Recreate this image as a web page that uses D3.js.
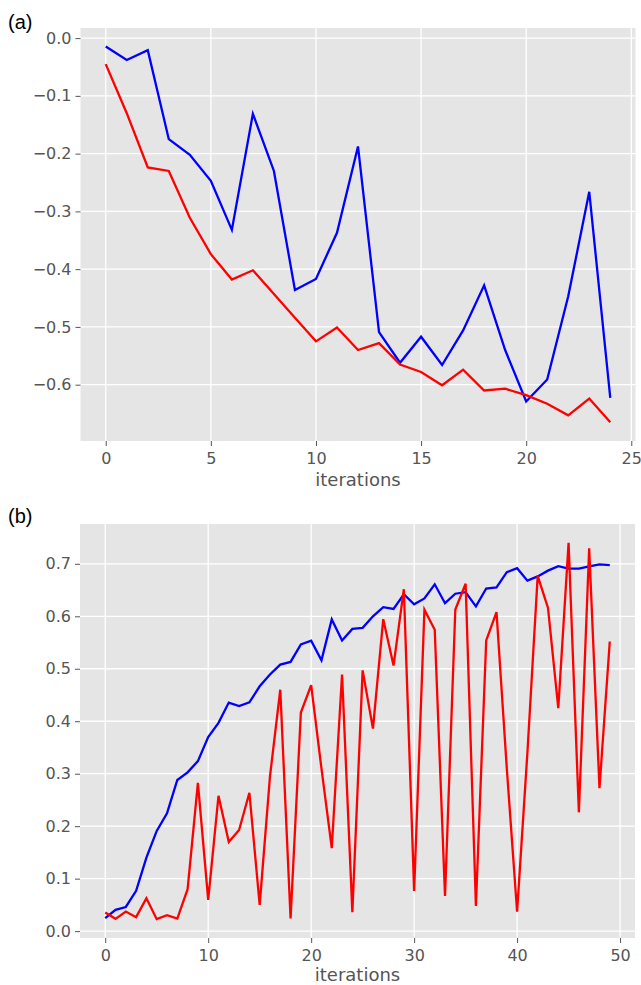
<!DOCTYPE html>
<html>
<head>
<meta charset="utf-8">
<script src="https://cdn.jsdelivr.net/npm/d3@7"></script>
<style>
  body { margin: 0; background: #fff; }
  svg { display: block; }
</style>
</head>
<body>
<script>
// panel (a): 25 iterations
var itersA = d3.range(0, 25);
var blueA = [-0.0145, -0.038, -0.021, -0.175, -0.202, -0.247, -0.332, -0.131, -0.23, -0.436,
  -0.417, -0.337, -0.1875, -0.509, -0.562, -0.517, -0.566, -0.506, -0.428, -0.54,
  -0.629, -0.591, -0.447, -0.266, -0.623];
var redA = [-0.045, -0.13, -0.224, -0.23, -0.311, -0.374, -0.418, -0.402, -0.443, -0.484,
  -0.525, -0.501, -0.54, -0.528, -0.565, -0.578, -0.601, -0.574, -0.61, -0.607,
  -0.618, -0.633, -0.653, -0.624, -0.665];
var xTicksA = [0, 5, 10, 15, 20, 25];
var yTicksA = [-0.6, -0.5, -0.4, -0.3, -0.2, -0.1, 0.0];

// panel (b): 50 iterations
var itersB = d3.range(0, 50);
var blueB = [0.0247, 0.0405, 0.046, 0.0767, 0.14, 0.191, 0.2245, 0.288, 0.3025, 0.324,
  0.37, 0.397, 0.4356, 0.429, 0.436, 0.4666, 0.489, 0.508, 0.513, 0.5465,
  0.5535, 0.516, 0.594, 0.554, 0.576, 0.578, 0.6, 0.6175, 0.614, 0.642,
  0.623, 0.634, 0.661, 0.625, 0.643, 0.646, 0.619, 0.653, 0.655, 0.684,
  0.6917, 0.668, 0.676, 0.687, 0.6955, 0.691, 0.691, 0.695, 0.6988, 0.6975];
var redB = [0.0355, 0.0234, 0.0373, 0.0266, 0.0628, 0.0228, 0.0304, 0.024, 0.08, 0.2827,
  0.0595, 0.258, 0.17, 0.1927, 0.2637, 0.05, 0.295, 0.46, 0.024, 0.4166,
  0.469, 0.31, 0.158, 0.489, 0.036, 0.497, 0.386, 0.5946, 0.506, 0.6517,
  0.0767, 0.6125, 0.5745, 0.067, 0.613, 0.662, 0.048, 0.554, 0.608, 0.31,
  0.037, 0.34, 0.677, 0.616, 0.425, 0.74, 0.2264, 0.7297, 0.2726, 0.552];
var xTicksB = [0, 10, 20, 30, 40, 50];
var yTicksB = [0.0, 0.1, 0.2, 0.3, 0.4, 0.5, 0.6, 0.7];

var W = 641, H = 985;

var svg = d3.select('body').append('svg')
  .attr('width', W)
  .attr('height', H);

// matplotlib style labels with a real minus sign
var fmt1 = function(d) { return d3.format('.1f')(d).replace('-', '\u2212'); };

var panels = [
  { tag: '(a)', tagY: 29, iters: itersA, blue: blueA, red: redA,
    xDom: [-1.2, 25.2], yDom: [-0.6975, 0.0175], xTicks: xTicksA, yTicks: yTicksA,
    left: 80.5, right: 635.5, top: 28, bottom: 441, labelY: 486 },
  { tag: '(b)', tagY: 523, iters: itersB, blue: blueB, red: redB,
    xDom: [-2.45, 51.45], yDom: [-0.0131, 0.7759], xTicks: xTicksB, yTicks: yTicksB,
    left: 80, right: 635, top: 524, bottom: 938, labelY: 981 }
];

panels.forEach(function(p) {
  var x = d3.scaleLinear().domain(p.xDom).range([p.left, p.right]);
  var y = d3.scaleLinear().domain(p.yDom).range([p.bottom, p.top]);
  var g = svg.append('g');

  g.append('rect')
    .attr('x', p.left).attr('y', p.top)
    .attr('width', p.right - p.left).attr('height', p.bottom - p.top)
    .attr('fill', '#e5e5e5');

  // grid
  g.selectAll('.gx').data(p.xTicks).enter().append('line')
    .attr('x1', function(d) { return x(d); }).attr('x2', function(d) { return x(d); })
    .attr('y1', p.top).attr('y2', p.bottom)
    .attr('stroke', '#fff').attr('stroke-width', 1.3);
  g.selectAll('.gy').data(p.yTicks).enter().append('line')
    .attr('y1', function(d) { return y(d); }).attr('y2', function(d) { return y(d); })
    .attr('x1', p.left).attr('x2', p.right)
    .attr('stroke', '#fff').attr('stroke-width', 1.3);

  var xAxis = g.append('g')
    .attr('transform', 'translate(0,' + p.bottom + ')')
    .call(d3.axisBottom(x).tickValues(p.xTicks).tickSize(5).tickPadding(7).tickFormat(d3.format('d')));
  var yAxis = g.append('g')
    .attr('transform', 'translate(' + p.left + ',0)')
    .call(d3.axisLeft(y).tickValues(p.yTicks).tickSize(5).tickPadding(4).tickFormat(fmt1));

  [xAxis, yAxis].forEach(function(a) {
    a.select('.domain').remove();
    a.selectAll('line').attr('stroke', '#555').attr('stroke-width', 1);
    a.selectAll('text')
      .attr('fill', '#555')
      .style('font-family', '"DejaVu Sans", sans-serif')
      .style('font-size', '16px');
  });

  var line = d3.line()
    .x(function(d, i) { return x(p.iters[i]); })
    .y(function(d) { return y(d); });

  g.append('path').datum(p.blue)
    .attr('d', line).attr('fill', 'none')
    .attr('stroke', '#0000ff').attr('stroke-width', 2.3);
  g.append('path').datum(p.red)
    .attr('d', line).attr('fill', 'none')
    .attr('stroke', '#ff0000').attr('stroke-width', 2.3);

  g.append('text')
    .attr('x', (p.left + p.right) / 2).attr('y', p.labelY)
    .attr('text-anchor', 'middle')
    .attr('fill', '#555')
    .style('font-family', '"DejaVu Sans", sans-serif')
    .style('font-size', '18px')
    .text('iterations');

  svg.append('text')
    .attr('x', 8).attr('y', p.tagY)
    .attr('fill', '#000')
    .style('font-family', '"Liberation Sans", Arial, sans-serif')
    .style('font-size', '20px')
    .text(p.tag);
});
</script>
</body>
</html>
